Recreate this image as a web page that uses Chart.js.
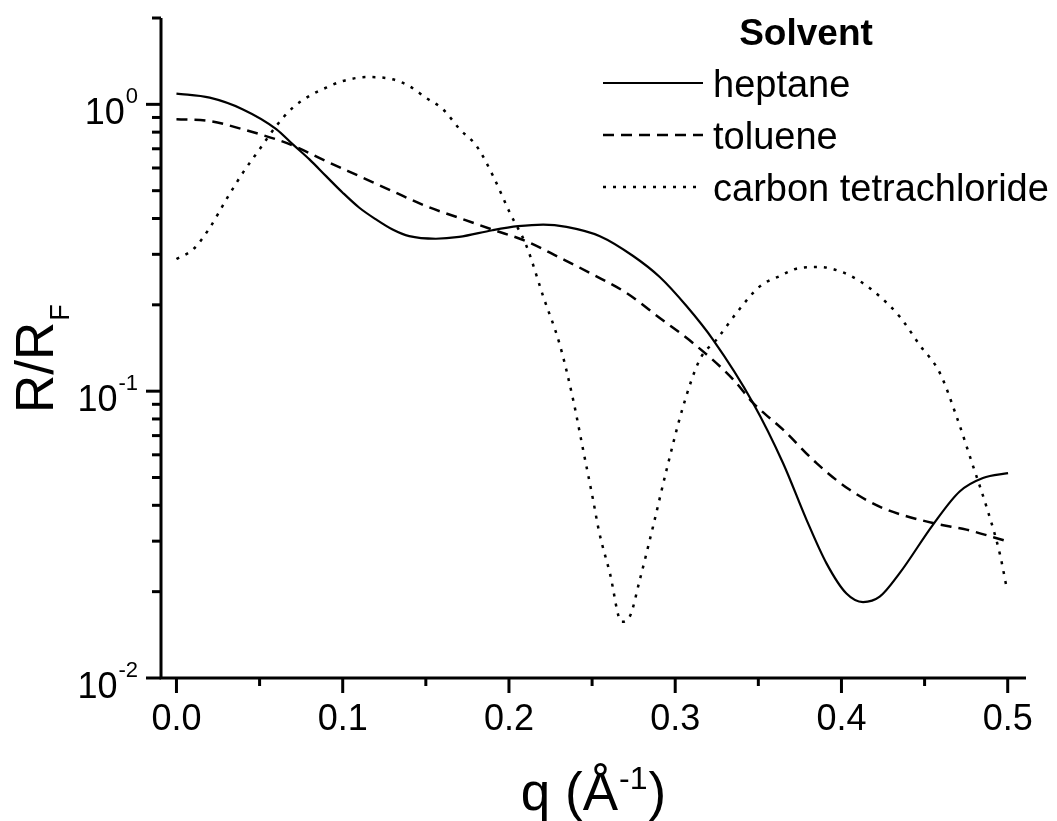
<!DOCTYPE html>
<html>
<head>
<meta charset="utf-8">
<script src="https://cdn.jsdelivr.net/npm/chart.js@4/dist/chart.umd.min.js"></script>
<style>
  html, body { margin: 0; padding: 0; background: #fff; }
  canvas { display: block; }
</style>
</head>
<body>
<canvas id="chart" width="1057" height="821"></canvas>
<script>
// --- data ---
const seriesLabels = ['heptane', 'toluene', 'carbon tetrachloride'];
const legendTitle = 'Solvent';

const heptaneQ = [0.000, 0.020, 0.040, 0.060, 0.070, 0.080, 0.090, 0.100, 0.110, 0.120, 0.130, 0.140, 0.156, 0.170, 0.190, 0.2055, 0.2206, 0.2346, 0.2547, 0.2747, 0.2907, 0.3068, 0.3228, 0.3468, 0.3649, 0.379, 0.391, 0.403, 0.413, 0.423, 0.435, 0.455, 0.4711, 0.4851, 0.5002];
const heptaneR = [1.09, 1.055, 0.96, 0.82, 0.725, 0.643, 0.562, 0.492, 0.436, 0.397, 0.366, 0.347, 0.340, 0.345, 0.364, 0.376, 0.381, 0.374, 0.347, 0.296, 0.250, 0.198, 0.151, 0.091, 0.0561, 0.0356, 0.0251, 0.0197, 0.0184, 0.0192, 0.0232, 0.0342, 0.0447, 0.0498, 0.0518];

const tolueneQ = [0.000, 0.020, 0.040, 0.060, 0.070, 0.090, 0.110, 0.130, 0.150, 0.170, 0.190, 0.2106, 0.2306, 0.2506, 0.2707, 0.2907, 0.3108, 0.3348, 0.3468, 0.3649, 0.385, 0.405, 0.425, 0.455, 0.4752, 0.5002];
const tolueneR = [0.887, 0.875, 0.818, 0.755, 0.719, 0.634, 0.562, 0.498, 0.442, 0.402, 0.366, 0.333, 0.292, 0.255, 0.220, 0.180, 0.147, 0.110, 0.091, 0.0734, 0.0561, 0.0453, 0.0391, 0.0347, 0.0329, 0.0299];

const ccl4Q = [0.000, 0.010, 0.020, 0.030, 0.040, 0.050, 0.060, 0.070, 0.080, 0.090, 0.100, 0.1153, 0.130, 0.140, 0.150, 0.1604, 0.1705, 0.1805, 0.1905, 0.2005, 0.2106, 0.2206, 0.2306, 0.2386, 0.2446, 0.2506, 0.2542, 0.2607, 0.2677, 0.2727, 0.2787, 0.2867, 0.2948, 0.3048, 0.3148, 0.3248, 0.3369, 0.3509, 0.3629, 0.3749, 0.387, 0.399, 0.411, 0.423, 0.435, 0.447, 0.4591, 0.4692, 0.4792, 0.4872, 0.4952, 0.4996];
const ccl4R = [0.289, 0.312, 0.371, 0.466, 0.578, 0.697, 0.840, 0.974, 1.07, 1.143, 1.206, 1.245, 1.223, 1.158, 1.055, 0.96, 0.818, 0.716, 0.562, 0.419, 0.320, 0.214, 0.145, 0.0934, 0.0625, 0.0418, 0.0324, 0.0232, 0.0157, 0.0164, 0.022, 0.0338, 0.0532, 0.0886, 0.129, 0.151, 0.1875, 0.232, 0.252, 0.269, 0.271, 0.262, 0.242, 0.214, 0.182, 0.145, 0.116, 0.0817, 0.0547, 0.0396, 0.0272, 0.0203];

// axis ticks
const xMajorTicks = [0, 0.1, 0.2, 0.3, 0.4, 0.5];
const xTickLabels = ['0.0', '0.1', '0.2', '0.3', '0.4', '0.5'];
const xMinorTicks = [0.05, 0.15, 0.25, 0.35, 0.45];
const yMajorTicks = [1, 0.1, 0.01];
const yTickExponents = ['0', '-1', '-2'];
const yMinorTicks = [0.02, 0.03, 0.04, 0.05, 0.06, 0.07, 0.08, 0.09,
                     0.2, 0.3, 0.4, 0.5, 0.6, 0.7, 0.8, 0.9, 2];
const xTitleParts = ['q (Å', '-1', ')'];
const yTitleParts = ['R/R', 'F'];

const FONT = '"Liberation Sans", Arial, Helvetica, sans-serif';

const toPoints = (qs, rs) => qs.map((q, i) => ({ x: q, y: rs[i] }));

/*
 * Draws the Origin-style axes: outward ticks, 10^n labels, titles and legend
 */
const originAxes = {
  id: 'originAxes',
  afterDraw(chart) {
    const ctx = chart.ctx;
    const xs = chart.scales.x;
    const ys = chart.scales.y;
    const area = chart.chartArea;
    ctx.save();
    ctx.strokeStyle = '#000';
    ctx.fillStyle = '#000';
    ctx.lineWidth = 3;
    ctx.lineCap = 'butt';
    ctx.setLineDash([]);

    // axis lines
    ctx.beginPath();
    ctx.moveTo(area.left, area.top);
    ctx.lineTo(area.left, area.bottom);
    ctx.lineTo(area.right, area.bottom);
    ctx.stroke();

    const line = (x1, y1, x2, y2) => {
      ctx.beginPath(); ctx.moveTo(x1, y1); ctx.lineTo(x2, y2); ctx.stroke();
    };
    xMajorTicks.forEach(v => { const p = xs.getPixelForValue(v); line(p, area.bottom, p, area.bottom + 15); });
    xMinorTicks.forEach(v => { const p = xs.getPixelForValue(v); line(p, area.bottom, p, area.bottom + 8); });
    yMajorTicks.forEach(v => { const p = ys.getPixelForValue(v); line(area.left, p, area.left - 15, p); });
    yMinorTicks.forEach(v => { const p = ys.getPixelForValue(v); line(area.left, p, area.left - 9, p); });

    // x tick labels
    ctx.font = `36px ${FONT}`;
    ctx.textAlign = 'center';
    ctx.textBaseline = 'alphabetic';
    xMajorTicks.forEach((v, i) => ctx.fillText(xTickLabels[i], xs.getPixelForValue(v), area.bottom + 52));

    // y tick labels 10^n
    yMajorTicks.forEach((v, i) => {
      const p = ys.getPixelForValue(v);
      const right = area.left - 23;
      ctx.textAlign = 'right';
      ctx.font = `22px ${FONT}`;
      ctx.fillText(yTickExponents[i], right, p - 1);
      const w = ctx.measureText(yTickExponents[i]).width;
      ctx.font = `36px ${FONT}`;
      ctx.fillText('10', right - w - 1, p + 20);
    });

    // x title, centred on the axis
    ctx.textAlign = 'left';
    ctx.font = `53px ${FONT}`;
    const w0 = ctx.measureText(xTitleParts[0]).width;
    const w2 = ctx.measureText(xTitleParts[2]).width;
    ctx.font = `32px ${FONT}`;
    const w1 = ctx.measureText(xTitleParts[1]).width;
    const tx = (area.left + area.right) / 2 - (w0 + w1 + w2 + 2) / 2;
    const tb = 810;
    ctx.font = `53px ${FONT}`;
    ctx.fillText(xTitleParts[0], tx, tb);
    ctx.font = `32px ${FONT}`;
    ctx.fillText(xTitleParts[1], tx + w0 + 1, tb - 21);
    ctx.font = `53px ${FONT}`;
    ctx.fillText(xTitleParts[2], tx + w0 + w1 + 2, tb);

    // y title, rotated
    ctx.save();
    ctx.translate(53, 413);
    ctx.rotate(-Math.PI / 2);
    ctx.font = `53px ${FONT}`;
    ctx.fillText(yTitleParts[0], 0, 0);
    const wr = ctx.measureText(yTitleParts[0]).width;
    ctx.font = `27px ${FONT}`;
    ctx.fillText(yTitleParts[1], wr + 1, 16);
    ctx.restore();

    // legend
    ctx.font = `bold 37px ${FONT}`;
    ctx.textAlign = 'center';
    ctx.fillText(legendTitle, 806, 45);
    ctx.textAlign = 'left';
    ctx.font = `38px ${FONT}`;
    chart.data.datasets.forEach((ds, i) => {
      const yl = 83 + i * 52;
      ctx.lineWidth = ds.borderWidth;
      ctx.setLineDash(ds.borderDash || []);
      line(603, yl, 703, yl);
      ctx.setLineDash([]);
      ctx.fillText(ds.label, 713, 97 + i * 52);
    });
    ctx.restore();
  }
};

new Chart(document.getElementById('chart'), {
  type: 'line',
  data: {
    datasets: [
      { label: seriesLabels[0], data: toPoints(heptaneQ, heptaneR), borderColor: '#000', borderWidth: 2.2, borderDash: [] },
      { label: seriesLabels[1], data: toPoints(tolueneQ, tolueneR), borderColor: '#000', borderWidth: 2.5, borderDash: [11, 7] },
      { label: seriesLabels[2], data: toPoints(ccl4Q, ccl4R), borderColor: '#000', borderWidth: 2.5, borderDash: [3, 7] }
    ]
  },
  options: {
    responsive: false,
    animation: false,
    devicePixelRatio: 1,
    elements: { point: { radius: 0 }, line: { cubicInterpolationMode: 'monotone', fill: false } },
    layout: { padding: { top: 18, right: 31, left: 0, bottom: 0 } },
    plugins: { legend: { display: false }, tooltip: { enabled: false } },
    scales: {
      x: {
        type: 'linear', min: -0.0093, max: 0.511,
        grid: { display: false }, border: { display: false }, ticks: { display: false },
        afterFit(s) { s.height = 143; }
      },
      y: {
        type: 'logarithmic', min: 0.01, max: 2,
        grid: { display: false }, border: { display: false }, ticks: { display: false },
        afterFit(s) { s.width = 161; }
      }
    }
  },
  plugins: [originAxes]
});
</script>
</body>
</html>
